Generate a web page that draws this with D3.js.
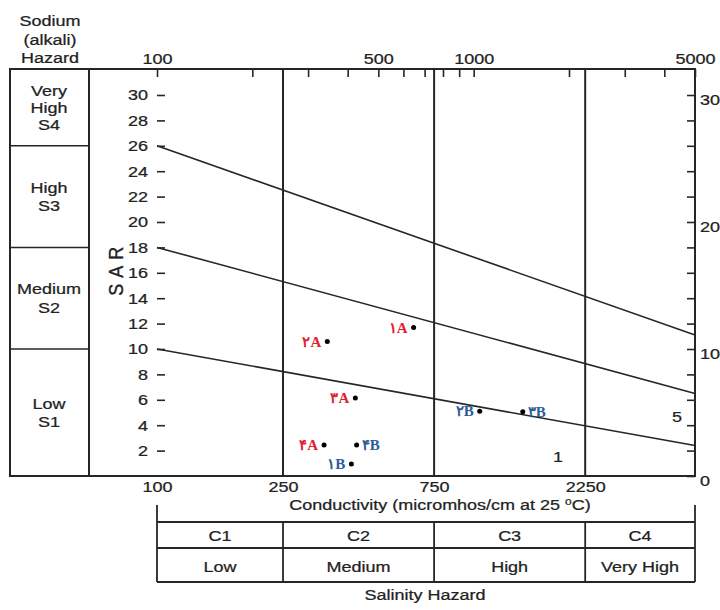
<!DOCTYPE html>
<html>
<head>
<meta charset="utf-8" />
<title>USSL salinity / sodium diagram</title>
<script src="https://d3js.org/d3.v7.min.js"></script>
<style>
  body { margin: 0; background: #fff; }
  svg text { font-family: "Liberation Sans", Arial, sans-serif; fill: #222; }
</style>
</head>
<body>
<svg width="720" height="610"></svg>
<script>
// water samples (EC in micromhos/cm, SAR)
const sampleNames = ["۱A", "۲A", "۳A", "۴A", "۱B", "۲B", "۳B", "۴B"];
const ecValues = [646, 345, 423, 337, 411, 1045, 1429, 427];
const sarValues = [11.7, 10.6, 6.15, 2.45, 0.95, 5.1, 5.05, 2.45];
const labelsOnRight = ["۳B", "۴B"];

// hazard class limits
const ecClassLimits = [250, 750, 2250];
const sarAt100 = [10, 18, 26];
const sarAt5000 = [2.4, 6.5, 11.1];

// ticks
const sarTickValues = [2, 4, 6, 8, 10, 12, 14, 16, 18, 20, 22, 24, 26, 28, 30];
const topTickValues = [100, 200, 300, 400, 500, 600, 700, 800, 900, 1000, 2000, 3000, 4000, 5000];
const topTickLabels = [100, 500, 1000, 5000];
const bottomTickValues = [100, 250, 750, 2250];
const rightTickValues = [0, 2, 4, 6, 8, 10, 12, 14, 16, 18, 20, 22, 24, 26, 28, 30];
const rightTickLabels = [0, 10, 20, 30];

// class tables
const sodiumBands = [0, 10, 18, 26, 32];
const sodiumLabels = [["Low", "S1"], ["Medium", "S2"], ["High", "S3"], ["Very", "High", "S4"]];
const salinityBands = [100, 250, 750, 2250, 5000];
const salinityCodes = ["C1", "C2", "C3", "C4"];
const salinityNames = ["Low", "Medium", "High", "Very High"];

// zone numbers written in the plot
const zoneText = ["1", "5"];
const zoneEC = [1845, 4385];
const zoneSAR = [1.5, 4.7];

const svg = d3.select("svg");
const ink = "#262626";
const fs = "15px";

const pLeft = 157, pRight = 695, pTop = 69, pBottom = 476;
const x = d3.scaleLog().domain([100, 5000]).range([pLeft, pRight]);
const y = d3.scaleLinear().domain([0, 32]).range([pBottom, pTop + 0.6]);

// frame
svg.append("rect")
  .attr("x", 10).attr("y", pTop)
  .attr("width", pRight - 10).attr("height", pBottom - pTop)
  .attr("fill", "none").attr("stroke", ink).attr("stroke-width", 2);
svg.append("line")
  .attr("x1", 89).attr("x2", 89).attr("y1", pTop).attr("y2", pBottom)
  .attr("stroke", ink).attr("stroke-width", 2);

// sodium hazard side table
svg.selectAll(".sodium-div")
  .data(sodiumBands.slice(1, -1))
  .enter().append("line")
  .attr("x1", 10).attr("x2", 89)
  .attr("y1", d => y(d)).attr("y2", d => y(d))
  .attr("stroke", ink).attr("stroke-width", 1.5);

sodiumLabels.forEach((lines, i) => {
  const mid = y((sodiumBands[i] + sodiumBands[i + 1]) / 2);
  const step = lines.length > 2 ? 17 : 18.5;
  lines.forEach((s, j) => {
    svg.append("text")
      .attr("class", "sans")
      .attr("x", 49)
      .attr("y", mid + (j - (lines.length - 1) / 2) * step + 5.5)
      .attr("text-anchor", "middle")
      .style("font-size", fs)
      .text(s);
  });
});

["Sodium", "(alkali)", "Hazard"].forEach((s, j) => {
  svg.append("text")
    .attr("class", "sans")
    .attr("x", 50).attr("y", 26.5 + j * 18.5)
    .attr("text-anchor", "middle")
    .style("font-size", fs)
    .text(s);
});

// salinity class boundaries (vertical) and sodium boundaries (sloping)
svg.selectAll(".ec-div")
  .data(ecClassLimits)
  .enter().append("line")
  .attr("x1", d => x(d)).attr("x2", d => x(d))
  .attr("y1", pTop).attr("y2", pBottom)
  .attr("stroke", ink).attr("stroke-width", 2);

svg.selectAll(".sar-div")
  .data(sarAt100)
  .enter().append("line")
  .attr("x1", x(100)).attr("x2", x(5000))
  .attr("y1", d => y(d)).attr("y2", (d, i) => y(sarAt5000[i]))
  .attr("stroke", ink).attr("stroke-width", 1.6);

// axes
function styleAxis(g) {
  g.select(".domain").remove();
  g.selectAll("line").attr("stroke", ink).attr("stroke-width", 1.6);
  g.selectAll("text").attr("class", "sans").style("font-size", fs).attr("fill", ink)
    .style("font-family", '"Liberation Sans", Arial, sans-serif');
}

svg.append("g")
  .attr("transform", `translate(${pLeft},0)`)
  .call(d3.axisLeft(y).tickValues(sarTickValues).tickSize(-8).tickPadding(9))
  .call(styleAxis);

svg.append("g")
  .attr("transform", `translate(0,${pTop})`)
  .call(d3.axisTop(x).tickValues(topTickValues).tickSize(-8).tickPadding(5)
    .tickFormat(d => topTickLabels.includes(d) ? d : ""))
  .call(styleAxis);

svg.append("g")
  .attr("transform", `translate(${pRight},0)`)
  .call(d3.axisRight(y).tickValues(rightTickValues).tickSize(-8).tickPadding(5)
    .tickFormat(d => rightTickLabels.includes(d) ? d : ""))
  .call(styleAxis)
  .selectAll("text").attr("dy", "0.6em");

svg.append("g")
  .attr("transform", `translate(0,${pBottom})`)
  .call(d3.axisBottom(x).tickValues(bottomTickValues).tickSize(0).tickPadding(5)
    .tickFormat(d => d))
  .call(styleAxis);

svg.append("text")
  .attr("transform", `translate(123,${y(16) - 2}) scale(1.15,1) rotate(-90)`)
  .attr("text-anchor", "middle")
  .style("font-size", "18px")
  .style("letter-spacing", "1px")
  .style("stroke", ink).style("stroke-width", 0.3)
  .text("S A R");

// zone numbers
svg.selectAll(".zone")
  .data(zoneText)
  .enter().append("text")
  .attr("class", "sans")
  .attr("x", (d, i) => x(zoneEC[i]))
  .attr("y", (d, i) => y(zoneSAR[i]))
  .attr("dy", "0.35em")
  .attr("text-anchor", "middle")
  .style("font-size", fs)
  .text(d => d);

// conductivity title
const title = svg.append("text")
  .attr("class", "sans")
  .attr("x", 440).attr("y", 510)
  .attr("text-anchor", "middle")
  .style("font-size", fs);
title.append("tspan").text("Conductivity (micromhos/cm at 25 ");
title.append("tspan").attr("dy", -5).style("font-size", "10px").text("o");
title.append("tspan").attr("dy", 5).text("C)");

// salinity hazard table
const tTop = 522, tMid = 548, tBot = 582;
[x(100), x(5000)].forEach(px => {
  svg.append("line").attr("x1", px).attr("x2", px).attr("y1", 505).attr("y2", tBot)
    .attr("stroke", ink).attr("stroke-width", 1.8);
});
[tTop, tMid, tBot].forEach(py => {
  svg.append("line").attr("x1", x(100)).attr("x2", x(5000)).attr("y1", py).attr("y2", py)
    .attr("stroke", ink).attr("stroke-width", 1.8);
});
svg.selectAll(".sal-div")
  .data(salinityBands.slice(1, -1))
  .enter().append("line")
  .attr("x1", d => x(d)).attr("x2", d => x(d))
  .attr("y1", tTop).attr("y2", tBot)
  .attr("stroke", ink).attr("stroke-width", 1.8);

salinityCodes.forEach((c, i) => {
  const cx = (x(salinityBands[i]) + x(salinityBands[i + 1])) / 2;
  svg.append("text").attr("class", "sans").attr("x", cx).attr("y", 541).attr("text-anchor", "middle")
    .style("font-size", fs).text(c);
  svg.append("text").attr("class", "sans").attr("x", cx).attr("y", 572).attr("text-anchor", "middle")
    .style("font-size", fs).text(salinityNames[i]);
});

svg.append("text")
  .attr("class", "sans")
  .attr("x", 425).attr("y", 600)
  .attr("text-anchor", "middle")
  .style("font-size", fs)
  .text("Salinity Hazard");

// the scanned lettering is wider than the font: stretch it sideways
svg.selectAll("text.sans").each(function () {
  const t = d3.select(this);
  const tx = +t.attr("x") || 0, ty = +t.attr("y") || 0;
  t.attr("transform", `translate(${tx},${ty}) scale(1.2,1) translate(${-tx},${-ty})`)
    .style("stroke", ink).style("stroke-width", 0.25);
});

// samples
svg.selectAll(".pt")
  .data(sampleNames)
  .enter().append("circle")
  .attr("cx", (d, i) => x(ecValues[i]))
  .attr("cy", (d, i) => y(sarValues[i]))
  .attr("r", 2.5)
  .attr("fill", "#000");

svg.selectAll(".pt-label")
  .data(sampleNames)
  .enter().append("text")
  .attr("x", (d, i) => x(ecValues[i]) + (labelsOnRight.includes(d) ? 5 : -6))
  .attr("y", (d, i) => y(sarValues[i]))
  .attr("dy", "0.35em")
  .attr("text-anchor", d => labelsOnRight.includes(d) ? "start" : "end")
  .style("font-family", '"Liberation Serif", "DejaVu Serif", serif')
  .style("font-weight", "bold")
  .style("font-size", "15px")
  .style("fill", d => d.endsWith("A") ? "#e3202b" : "#2d5c98")
  .text(d => d);
</script>
</body>
</html>
